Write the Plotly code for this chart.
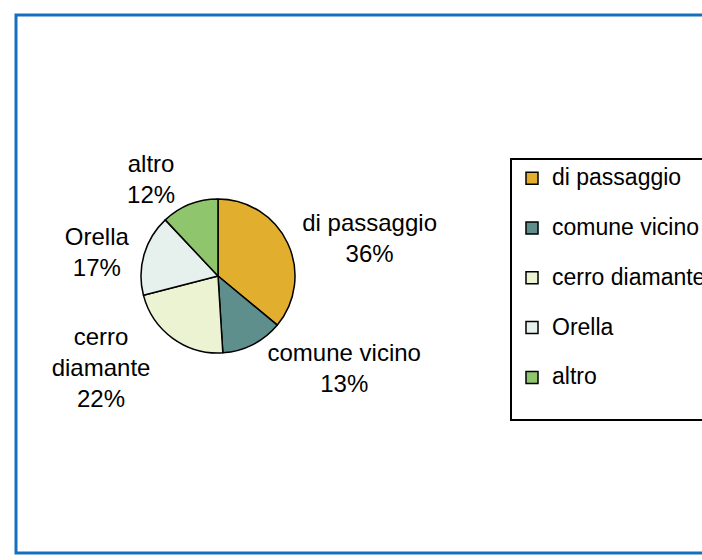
"""Grafico a torta: provenienza."""
import plotly.graph_objects as go

categorie = ["di passaggio", "comune vicino", "cerro diamante", "Orella", "altro"]
etichette = ["di passaggio", "comune vicino", "cerro<br>diamante", "Orella", "altro"]
valori = [36, 13, 22, 17, 12]
colori = ["#E2AE2E", "#5E8F8C", "#EBF3D2", "#E6F0EC", "#8FC66D"]

FONT = "Liberation Sans, Arial, sans-serif"
# la figura e' piu' larga della finestra: il bordo destro resta tagliato come nell'originale
W, H = 760, 560

# voci di legenda con una riga vuota sotto, per distanziarle come in Excel
voci_legenda = [f"<span style='font-size:23px'>{c}</span><br> " for c in categorie]

fig = go.Figure(
    go.Pie(
        labels=voci_legenda,
        values=valori,
        text=etichette,
        texttemplate="%{text}<br>%{percent:.0%}",
        textposition="outside",
        textfont=dict(family=FONT, size=24, color="black"),
        marker=dict(colors=colori, line=dict(color="black", width=1.5)),
        sort=False,
        direction="clockwise",
        rotation=0,
        domain=dict(x=[141 / W, 295 / W], y=[(H - 356) / H, (H - 196) / H]),
        automargin=False,
        hoverinfo="skip",
    )
)

fig.update_layout(
    width=W,
    height=H,
    autosize=False,
    margin=dict(l=0, r=0, t=0, b=0),
    paper_bgcolor="white",
    plot_bgcolor="white",
    font=dict(family=FONT, size=24, color="black"),
    legend=dict(
        x=510 / W,
        y=(H - 158) / H,
        xanchor="left",
        yanchor="top",
        bordercolor="black",
        borderwidth=2,
        bgcolor="white",
        font=dict(family=FONT, size=18, color="black"),
        itemwidth=30,
        valign="top",
    ),
    shapes=[
        dict(
            type="rect",
            xref="paper",
            yref="paper",
            x0=16 / W,
            x1=740 / W,
            y0=(H - 553) / H,
            y1=(H - 15) / H,
            line=dict(color="#1470BE", width=3),
        )
    ],
)

fig.write_html(
    "out.html",
    config=dict(displayModeBar=False, responsive=False),
    post_script=(
        "document.body.style.margin='0px';"
        "document.body.style.overflow='hidden';"
        "document.documentElement.style.overflow='hidden';"
    ),
)
